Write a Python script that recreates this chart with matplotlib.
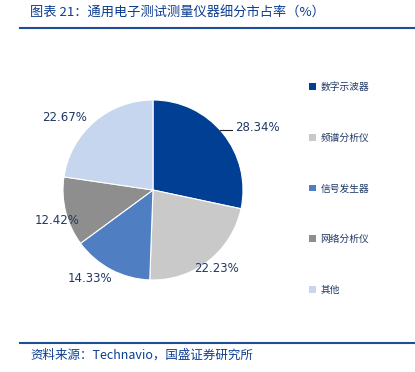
import matplotlib.pyplot as plt
from matplotlib.lines import Line2D
from matplotlib.patches import Patch

plt.rcParams["font.family"] = ["Noto Sans CJK SC", "DejaVu Sans"]

categories = ["数字示波器", "频谱分析仪", "信号发生器", "网络分析仪", "其他"]
shares = [28.34, 22.23, 14.33, 12.42, 22.67]
colors = ["#003f94", "#c9c9c9", "#4f7fc2", "#8e8e8e", "#c5d6ee"]
pct_labels = ["28.34%", "22.23%", "14.33%", "12.42%", "22.67%"]
# label centres in pie radius units
label_pos = [(1.16, 0.69), (0.70, -0.87), (-0.70, -0.98), (-1.06, -0.34), (-0.98, 0.81)]

TEXT = "#1f3864"
NAVY = "#0b3d91"

fig = plt.figure(figsize=(4.15, 3.72), dpi=100)

ax = fig.add_axes([(153 - 90) / 415, (372 - 190 - 90) / 372, 180 / 415, 180 / 372])
ax.pie(shares, colors=colors, startangle=90, counterclock=False,
       wedgeprops={"linewidth": 0.8, "edgecolor": "white"}, radius=1.0)
ax.set_xlim(-1, 1)
ax.set_ylim(-1, 1)
ax.set_aspect("equal")
for (x, y), lab in zip(label_pos, pct_labels):
    ax.text(x, y, lab, ha="center", va="center", fontsize=8.5, color=TEXT,
            family="DejaVu Sans", clip_on=False)
# leader line for first label
ax.add_line(Line2D([0.74, 0.88], [0.67, 0.67], color="#222222", lw=0.8, clip_on=False))

handles = [Patch(facecolor=c, edgecolor="none") for c in colors]
leg = fig.legend(handles, categories, loc="upper left", bbox_to_anchor=(300 / 415, 1 - 73 / 372),
                 frameon=False, fontsize=7, labelspacing=4.2, handlelength=0.7,
                 handleheight=0.7, handletextpad=0.5)
for t in leg.get_texts():
    t.set_color(TEXT)

fig.text(30 / 415, 1 - 13 / 372, "图表 21：通用电子测试测量仪器细分市占率（%）", fontsize=9.5,
         color=NAVY, style="italic", va="center", ha="left")
fig.add_artist(Line2D([20 / 415, 1.0], [1 - 28 / 372] * 2, color="#1f4e99", lw=1.5))
fig.add_artist(Line2D([20 / 415, 1.0], [1 - 343 / 372] * 2, color="#1f4e99", lw=1.5))
fig.text(30 / 415, 1 - 355 / 372, "资料来源：Technavio，国盛证券研究所", fontsize=9,
         color=NAVY, style="italic", va="center", ha="left")

fig.savefig("out.png", dpi=100)
